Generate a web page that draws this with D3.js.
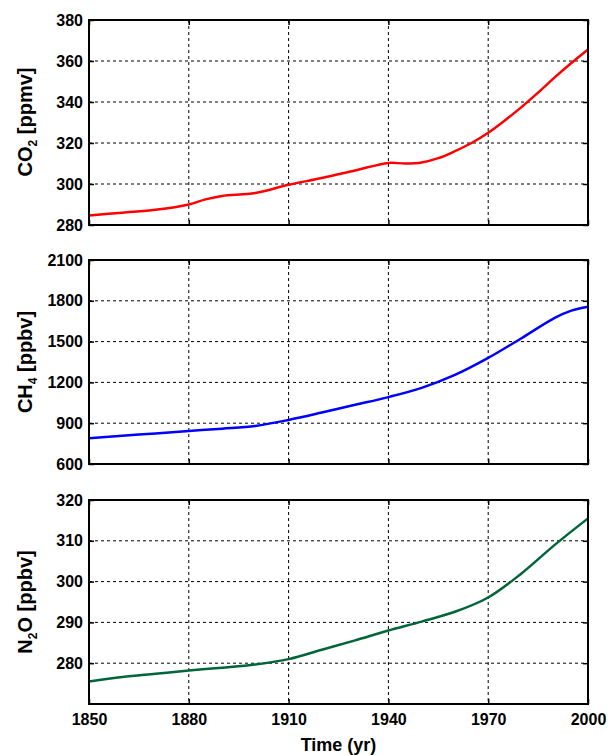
<!DOCTYPE html>
<html>
<head>
<meta charset="utf-8">
<script src="https://cdn.jsdelivr.net/npm/d3@7"></script>
<style>
  body { margin: 0; background: #fff; }
  text { font-family: "Liberation Sans", Arial, sans-serif; font-weight: bold; }
</style>
</head>
<body>
<div id="chart"></div>
<script>
// Data
var years = [1850, 1860, 1870, 1880, 1885, 1890, 1900, 1910, 1920, 1930, 1940, 1945, 1950, 1955, 1960, 1965, 1970, 1975, 1980, 1985, 1990, 1995, 2000];
var co2 = [284.6, 286.0, 287.4, 290.0, 292.5, 294.2, 295.6, 299.6, 302.9, 306.6, 310.3, 310.0, 310.5, 312.6, 316.0, 320.0, 325.0, 331.0, 337.5, 344.6, 352.0, 359.0, 365.6];
var ch4Years = [1850, 1860, 1870, 1880, 1890, 1900, 1910, 1920, 1930, 1940, 1950, 1960, 1970, 1980, 1990, 1995, 2000];
var ch4 = [790, 808, 825, 843, 860, 880, 924, 978, 1035, 1092, 1160, 1255, 1380, 1525, 1675, 1728, 1757];
var n2oYears = [1850, 1860, 1870, 1880, 1890, 1900, 1910, 1920, 1930, 1940, 1950, 1960, 1970, 1980, 1990, 2000];
var n2o = [275.5, 276.6, 277.4, 278.2, 278.9, 279.7, 281.0, 283.3, 285.6, 288.0, 290.2, 292.6, 296.1, 302.0, 309.0, 315.5];

var xTicks = [1850, 1880, 1910, 1940, 1970, 2000];
var co2Ticks = [280, 300, 320, 340, 360, 380];
var ch4Ticks = [600, 900, 1200, 1500, 1800, 2100];
var n2oTicks = [280, 290, 300, 310, 320];

var vWidth = 609;
var vHeight = 755;
var left = 89, right = 588;

var svg = d3.select("#chart")
    .append("svg")
        .attr("width", vWidth)
        .attr("height", vHeight);

var x = d3.scaleLinear().domain([1850, 2000]).range([left, right]);

var panels = [
    { xs: years, ys: co2, top: 20, bottom: 225, domain: [280, 380], ticks: co2Ticks, color: "#ff0000", label: ["CO", "2", " [ppmv]"], labelY: 122 },
    { xs: ch4Years, ys: ch4, top: 260, bottom: 464, domain: [600, 2100], ticks: ch4Ticks, color: "#0000ff", label: ["CH", "4", " [ppbv]"], labelY: 362 },
    { xs: n2oYears, ys: n2o, top: 500, bottom: 704, domain: [270, 320], ticks: n2oTicks, color: "#00663a", label: ["N", "2", "O [ppbv]"], labelY: 602 }
];

panels.forEach(function (p, i) {
    var y = d3.scaleLinear().domain(p.domain).range([p.bottom, p.top]);
    var g = svg.append("g");

    // dashed grid
    g.selectAll(".vgrid")
        .data(xTicks.slice(1, -1))
        .enter().append("line")
            .attr("x1", function (d) { return x(d); })
            .attr("x2", function (d) { return x(d); })
            .attr("y1", p.top)
            .attr("y2", p.bottom)
            .style("stroke", "#000")
            .style("stroke-width", 1)
            .style("stroke-dasharray", "3,3");
    g.selectAll(".hgrid")
        .data(p.ticks.filter(function (d) { return d > p.domain[0] && d < p.domain[1]; }))
        .enter().append("line")
            .attr("x1", left)
            .attr("x2", right)
            .attr("y1", function (d) { return y(d); })
            .attr("y2", function (d) { return y(d); })
            .style("stroke", "#000")
            .style("stroke-width", 1)
            .style("stroke-dasharray", "3,3");

    // data line
    var line = d3.line()
        .x(function (d, j) { return x(p.xs[j]); })
        .y(function (d) { return y(d); })
        .curve(d3.curveCatmullRom.alpha(0.5));
    g.append("path")
        .datum(p.ys)
        .attr("d", line)
        .style("fill", "none")
        .style("stroke", p.color)
        .style("stroke-width", 2.5);

    // axes, ticks inside
    var yl = g.append("g").attr("transform", "translate(" + left + ",0)")
        .call(d3.axisLeft(y).tickValues(p.ticks).tickSize(-5).tickPadding(6).tickFormat(d3.format("d")));
    var yr = g.append("g").attr("transform", "translate(" + right + ",0)")
        .call(d3.axisRight(y).tickValues(p.ticks).tickSize(-5).tickFormat(""));
    var xb = g.append("g").attr("transform", "translate(0," + p.bottom + ")")
        .call(d3.axisBottom(x).tickValues(xTicks).tickSize(-5).tickPadding(10).tickFormat(i === 2 ? d3.format("d") : ""));
    var xt = g.append("g").attr("transform", "translate(0," + p.top + ")")
        .call(d3.axisTop(x).tickValues(xTicks).tickSize(-5).tickFormat(""));

    [yl, yr, xb, xt].forEach(function (a) {
        a.select(".domain").remove();
        a.selectAll("line").style("stroke", "#000").style("stroke-width", 1.5);
        a.selectAll("text").style("font-size", "16px").style("fill", "#000");
    });

    g.append("rect")
        .attr("x", left)
        .attr("y", p.top)
        .attr("width", right - left)
        .attr("height", p.bottom - p.top)
        .style("fill", "none")
        .style("stroke", "#000")
        .style("stroke-width", 2);

    // y label with subscript
    var t = g.append("text")
        .attr("transform", "translate(32," + p.labelY + ") rotate(-90)")
        .attr("text-anchor", "middle")
        .style("font-size", "20px");
    t.append("tspan").text(p.label[0]);
    t.append("tspan").attr("dy", 5).style("font-size", "12px").text(p.label[1]);
    t.append("tspan").attr("dy", -5).text(p.label[2]);
});

svg.append("text")
    .attr("x", (left + right) / 2)
    .attr("y", 751)
    .attr("text-anchor", "middle")
    .style("font-size", "18px")
    .text("Time (yr)");
</script>
</body>
</html>
